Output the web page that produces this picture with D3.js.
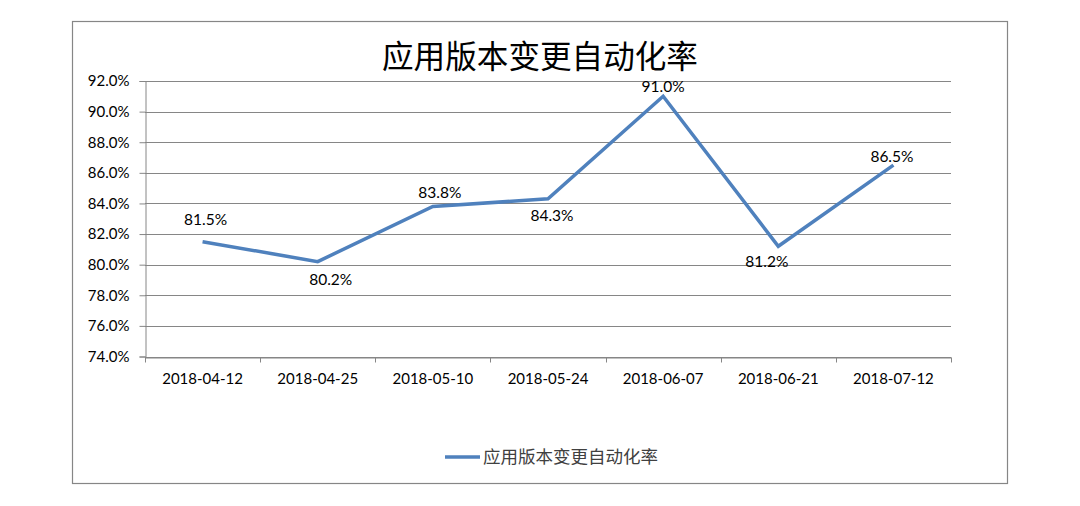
<!DOCTYPE html>
<html><head><meta charset="utf-8">
<script src="https://cdn.jsdelivr.net/npm/d3@7"></script>
<style>body{margin:0;background:#fff;}svg{display:block;}</style>
</head><body>
<svg id="c" width="1080" height="506"></svg>
<script>
const categories = ["2018-04-12","2018-04-25","2018-05-10","2018-05-24","2018-06-07","2018-06-21","2018-07-12"];
const values = [81.5, 80.2, 83.8, 84.3, 91.0, 81.2, 86.5];
const yTicks = [74,76,78,80,82,84,86,88,90,92];
const seriesName = "应用版本变更自动化率";
const title = "应用版本变更自动化率";
// label nudges relative to each point (layout only)
const labelDx = [3, 13, 7, 4, 0, -11.5, -1.5];
const labelDy = [-17, 23, -8.5, 22, -4, 20.5, -3];

const svg = d3.select("#c");
const latin = "Lato, 'Open Sans', sans-serif";
const cjk = "'Noto Sans CJK SC', sans-serif";
const pLeft = 145, pRight = 951, pTop = 81, pBottom = 356.5;

svg.append("rect").attr("x",72.5).attr("y",21.5).attr("width",935).attr("height",462)
  .attr("fill","#fff").attr("stroke","#868686").attr("stroke-width",1.2);

svg.append("text").attr("x",540).attr("y",68).attr("text-anchor","middle")
  .attr("font-family",cjk).attr("font-size",31.6).attr("fill","#000").text(title);

const x = d3.scaleBand().domain(categories).range([pLeft,pRight]);
const y = d3.scaleLinear().domain([74,92]).range([pBottom,pTop]);

// gridlines
svg.append("g").selectAll("line").data(yTicks).join("line")
  .attr("x1",pLeft).attr("x2",pRight)
  .attr("y1",d=>Math.round(y(d))+0.5).attr("y2",d=>Math.round(y(d))+0.5)
  .attr("stroke","#868686").attr("stroke-width",1);

// y axis
const yAxis = svg.append("g").attr("transform",`translate(${pLeft+0.5},0)`)
  .call(d3.axisLeft(y).tickValues(yTicks).tickSize(6).tickPadding(10).tickFormat(d=>d.toFixed(1)+"%"));
yAxis.select(".domain").attr("stroke","#868686");
yAxis.selectAll(".tick line").attr("stroke","#868686");
yAxis.selectAll(".tick text").attr("font-family",latin).attr("font-size",15).attr("fill","#000");

// x axis
const xAxis = svg.append("g").attr("transform",`translate(0,${Math.round(pBottom)+0.5})`)
  .call(d3.axisBottom(x).tickSize(0).tickPadding(16));
xAxis.select(".domain").attr("stroke","#868686");
xAxis.selectAll(".tick text").attr("font-family",latin).attr("font-size",15).attr("fill","#000");
const bounds = categories.map(c=>x(c)).concat([pRight]);
xAxis.selectAll(".bt").data(bounds).join("line").attr("class","bt")
  .attr("x1",d=>Math.round(d)+0.5).attr("x2",d=>Math.round(d)+0.5)
  .attr("y1",0).attr("y2",5).attr("stroke","#868686");

// line
const pts = categories.map((c,i)=>[x(c)+x.bandwidth()/2, y(values[i])]);
svg.append("path").attr("d",d3.line()(pts)).attr("fill","none")
  .attr("stroke","#4F81BD").attr("stroke-width",3.5).attr("stroke-linejoin","miter");

// data labels
svg.append("g").selectAll("text").data(values).join("text")
  .attr("x",(d,i)=>pts[i][0]+labelDx[i])
  .attr("y",(d,i)=>pts[i][1]+labelDy[i])
  .attr("text-anchor","middle").attr("font-family",latin).attr("font-size",15.5).attr("fill","#000")
  .text(d=>d.toFixed(1)+"%");

// legend
svg.append("line").attr("x1",445).attr("x2",480).attr("y1",457).attr("y2",457)
  .attr("stroke","#4F81BD").attr("stroke-width",3.5);
svg.append("text").attr("x",483).attr("y",463).attr("font-family",cjk).attr("font-size",17.5)
  .attr("fill","#404040").text(seriesName);
</script>
</body></html>
